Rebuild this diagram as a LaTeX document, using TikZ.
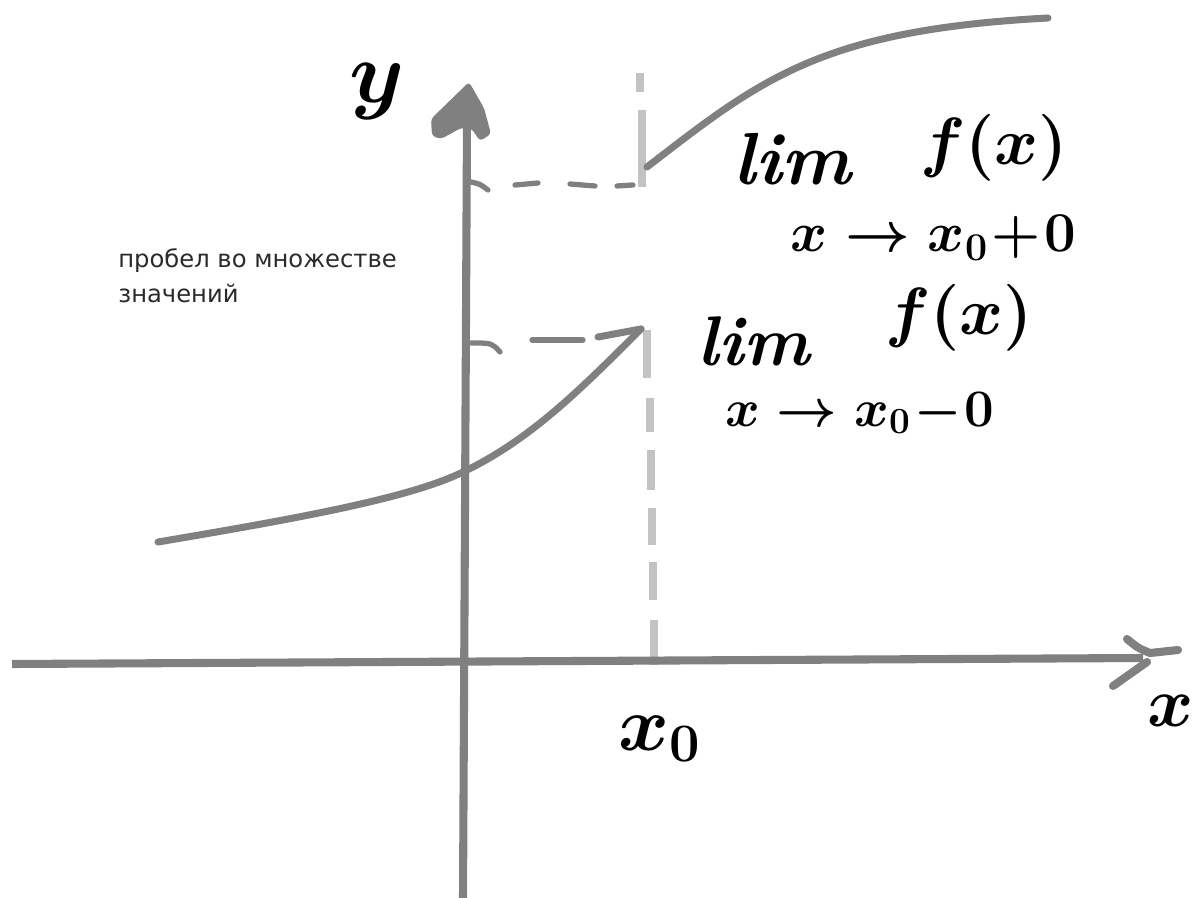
\RequirePackage{fix-cm}
\documentclass[tikz,border=0pt]{standalone}
\usepackage{fontspec}
\newfontfamily\notefont{DejaVu Sans}
\definecolor{axisgray}{HTML}{808080}
\definecolor{guidegray}{HTML}{C3C3C3}
\definecolor{notegray}{HTML}{2A2A2A}
\begin{document}
\begin{tikzpicture}[x=0.02cm,y=-0.02cm,
  axisline/.style={draw=axisgray,line width=4.6pt},
  graphline/.style={draw=axisgray,line width=4pt,line cap=round},
  hguide/.style={draw=axisgray,line width=3pt,line cap=round},
  vguide/.style={draw=guidegray,line width=4.6pt},
  hand/.style={text=black,inner sep=0pt,font=\boldmath\bfseries\itshape},
  note/.style={text=notegray,inner sep=0pt,anchor=base west,font=\notefont\fontsize{13.8}{16}\selectfont}]
\useasboundingbox (0,0) rectangle (1200,898);
% key coordinates
\coordinate (ybot) at (463,898);
\coordinate (ytop) at (467,122);
\coordinate (xleft) at (12,664);
\coordinate (xright) at (1143,658);
% vertical guide at x0
\foreach \a/\b/\xx in {73/92/640,110/187/642,330/378/647,398/432/650,450/490/651,508/545/652,562/600/653,620/665/654}
  \draw[vguide] (\xx,\a) -- (\xx,\b);
% axes
\draw[axisline] (ybot) -- (ytop);
\fill[axisgray,rounded corners=2pt] (469,82) -- (484,108) -- (491,134) -- (480,141) -- (471,128) -- (461,128) -- (441,139) -- (432,136) -- (431,119) -- cycle;
\draw[axisline] (xleft) -- (xright);
\draw[axisgray,line width=4.6pt,line cap=round] (1127,639) .. controls (1138,648) .. (1150,653) -- (1178,650);
\draw[axisgray,line width=4.6pt,line cap=round] (1113,686) -- (1147,662);
% horizontal guides
\draw[hguide] (471,182) .. controls (480,184) .. (488,190);
\draw[hguide] (515,185) -- (538,183);
\draw[hguide] (570,184) -- (595,186);
\draw[hguide] (617,186) -- (633,185);
\draw[hguide] (471,343) .. controls (492,343) .. (500,352);
\draw[hguide] (532,340) -- (583,340);
% graph of f
\coordinate (lstart) at (158,542);
\coordinate (lmid) at (463,472);
\coordinate (lend) at (641,329);
\draw[graphline] (lstart) .. controls (300,518) and (410,498) .. (lmid) .. controls (530,440) and (580,390) .. (lend);
\draw[graphline] (598,337) -- (lend);
\coordinate (ustart) at (647,167);
\coordinate (uend) at (1048,18);
\draw[graphline] (ustart) .. controls (760,80) and (820,30) .. (uend);
% labels
\node[hand,font=\boldmath\fontsize{50}{54}\selectfont] (ylab) at (377,92) {$y$};
\node[hand,font=\boldmath\fontsize{44}{48}\selectfont,anchor=base] (x0lab) at (660,750) {$x_0$};
\node[hand,font=\boldmath\fontsize{40}{44}\selectfont,anchor=base east] (xlab) at (1194,726) {$x$};
\node[hand,font=\bfseries\itshape\fontsize{42}{46}\selectfont,anchor=base west] (lim1) at (733,185) {lim};
\node[hand,font=\boldmath\fontsize{38}{42}\selectfont,anchor=base west] (f1) at (920,165) {$f(x)$};
\node[hand,font=\boldmath\fontsize{32}{36}\selectfont,anchor=base west] (s1) at (790,252) {$x\to x_0\!+\!0$};
\node[hand,font=\bfseries\itshape\fontsize{40}{44}\selectfont,anchor=base west] (lim2) at (697,366) {lim};
\node[hand,font=\boldmath\fontsize{38}{42}\selectfont,anchor=base west] (f2) at (885,335) {$f(x)$};
\node[hand,font=\boldmath\fontsize{30}{34}\selectfont,anchor=base west] (s2) at (725,426) {$x\to x_0\!-\!0$};
\node[note] (n1) at (118,268) {пробел во множестве};
\node[note] (n2) at (118,303) {значений};
\end{tikzpicture}
\end{document}
